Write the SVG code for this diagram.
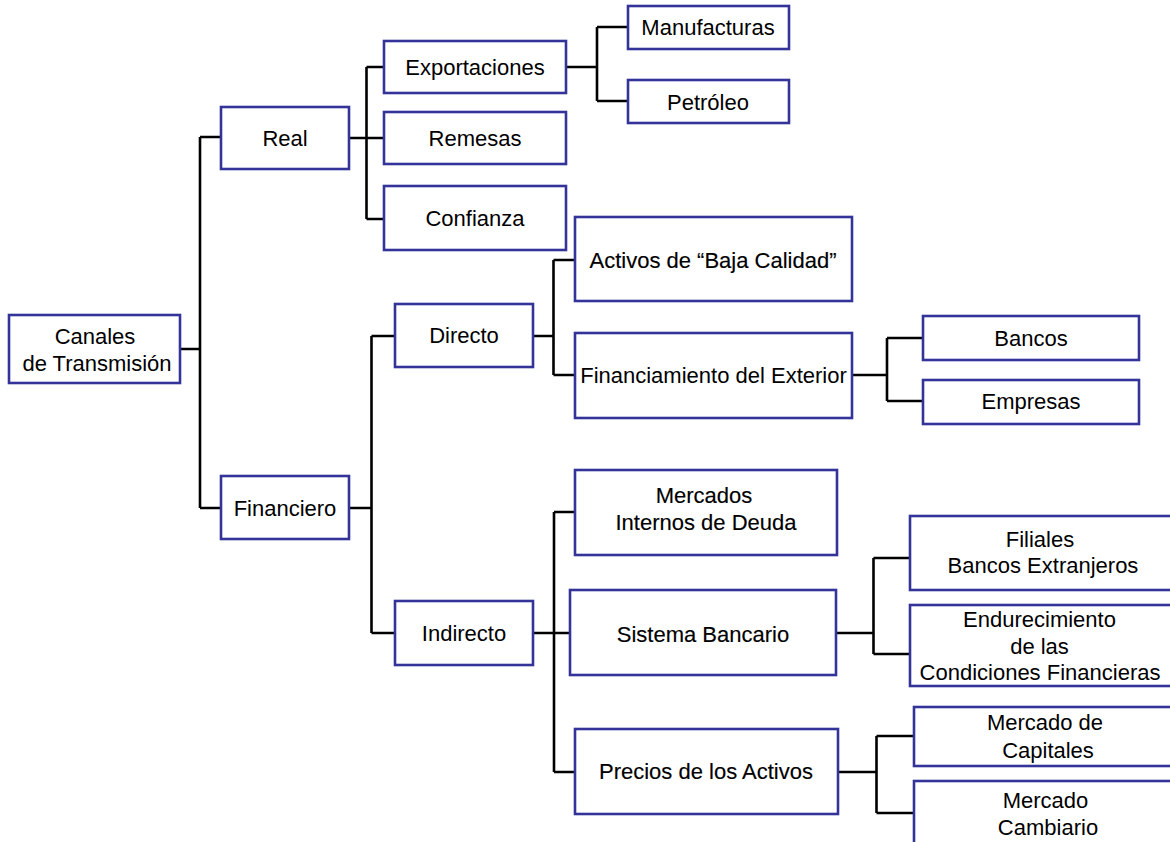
<svg xmlns="http://www.w3.org/2000/svg" width="1170" height="842" viewBox="0 0 1170 842">
<style>
.box{fill:#fff;stroke:#333399;stroke-width:2.6}
.t{font-family:"Liberation Sans",Arial,sans-serif;font-size:22px;fill:#000;text-anchor:middle}
.h{stroke:#000;stroke-width:0.15}
.c{fill:none;stroke:#000;stroke-width:2.6;stroke-linecap:butt;stroke-linejoin:miter}
</style>
<rect width="1170" height="842" fill="#fff"/>
<g id="connectors" class="c">
<path d="M180,349 H200 M200,137 V508 M200,137 H221 M200,508 H221"/>
<path d="M349,138 H384 M366.5,67 V219 M366.5,67 H384 M366.5,219 H384"/>
<path d="M566,67 H597 M597,27 V101 M597,27 H628 M597,101 H628"/>
<path d="M349,508 H371.5 M371.5,336 V633 M371.5,336 H395 M371.5,633 H395"/>
<path d="M533,336 H553.5 M553.5,260 V375 M553.5,260 H575 M553.5,375 H575"/>
<path d="M852,375 H887 M887,338 V401 M887,338 H923 M887,401 H923"/>
<path d="M533,633 H570 M554,512 V772 M554,512 H575 M554,772 H575"/>
<path d="M836,633 H873.5 M873.5,558 V654 M873.5,558 H910 M873.5,654 H910"/>
<path d="M838,772 H876.5 M876.5,736 V813 M876.5,736 H914 M876.5,813 H914"/>
</g>
<g id="canales"><rect class="box" x="9" y="315" width="171" height="68"/><text class="t" x="95" y="344">Canales</text><text class="t" x="97" y="371">de Transmisión</text></g>
<g id="real"><rect class="box" x="221" y="107" width="128" height="62"/><text class="t" x="285" y="146">Real</text></g>
<g id="financiero"><rect class="box" x="221" y="476" width="128" height="63"/><text class="t" x="285" y="516">Financiero</text></g>
<g id="exportaciones"><rect class="box" x="384" y="41" width="182" height="52"/><text class="t" x="475" y="75">Exportaciones</text></g>
<g id="remesas"><rect class="box" x="384" y="112" width="182" height="52"/><text class="t" x="475" y="146">Remesas</text></g>
<g id="confianza"><rect class="box" x="384" y="186" width="182" height="64"/><text class="t" x="475" y="226">Confianza</text></g>
<g id="manufacturas"><rect class="box" x="628" y="6" width="161" height="43"/><text class="t" x="708" y="35">Manufacturas</text></g>
<g id="petroleo"><rect class="box" x="628" y="80" width="161" height="43"/><text class="t" x="708" y="109.5">Petróleo</text></g>
<g id="directo"><rect class="box" x="395" y="304" width="138" height="63"/><text class="t" x="464" y="343">Directo</text></g>
<g id="indirecto"><rect class="box" x="395" y="601" width="138" height="64"/><text class="t" x="464" y="641">Indirecto</text></g>
<g id="activos"><rect class="box" x="575" y="217" width="277" height="84"/><text class="t h" x="713" y="268">Activos de “Baja Calidad”</text></g>
<g id="financiamiento"><rect class="box" x="575" y="333" width="277" height="85"/><text class="t" x="713.5" y="383">Financiamiento del Exterior</text></g>
<g id="bancos"><rect class="box" x="923" y="316" width="216" height="44"/><text class="t" x="1031" y="346">Bancos</text></g>
<g id="empresas"><rect class="box" x="923" y="380" width="216" height="44"/><text class="t" x="1031" y="409">Empresas</text></g>
<g id="mercados"><rect class="box" x="575" y="470" width="262" height="85"/><text class="t h" x="704" y="502.5">Mercados</text><text class="t h" x="706" y="530">Internos de Deuda</text></g>
<g id="sistema"><rect class="box" x="570" y="590" width="266" height="85"/><text class="t h" x="703" y="641.5">Sistema Bancario</text></g>
<g id="precios"><rect class="box" x="575" y="729" width="263" height="85"/><text class="t h" x="706" y="778.5">Precios de los Activos</text></g>
<g id="filiales"><rect class="box" x="910" y="516" width="268" height="74"/><text class="t" x="1040" y="546.5">Filiales</text><text class="t" x="1043" y="573">Bancos Extranjeros</text></g>
<g id="endurecimiento"><rect class="box" x="910" y="605" width="268" height="81"/><text class="t" x="1039.5" y="626.5">Endurecimiento</text><text class="t" x="1039.5" y="654">de las</text><text class="t" x="1040" y="680">Condiciones Financieras</text></g>
<g id="mercado-capitales"><rect class="box" x="914" y="707" width="264" height="59"/><text class="t" x="1045" y="730">Mercado de</text><text class="t" x="1048" y="758">Capitales</text></g>
<g id="mercado-cambiario"><rect class="box" x="914" y="781" width="264" height="80"/><text class="t" x="1045.5" y="808">Mercado</text><text class="t" x="1048" y="835">Cambiario</text></g>
</svg>
